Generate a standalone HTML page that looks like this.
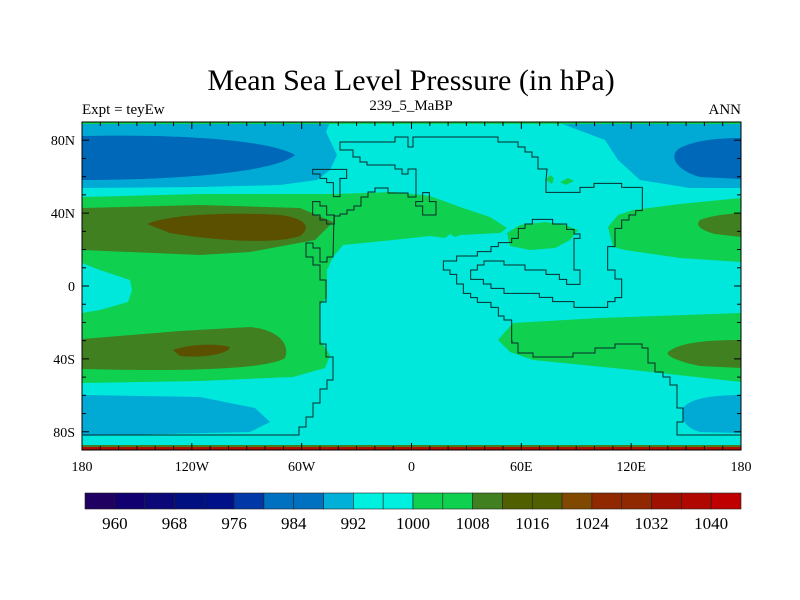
<!DOCTYPE html>
<html><head><meta charset="utf-8"><style>
html,body{margin:0;padding:0;background:#fff;}
svg{display:block;font-family:"Liberation Serif",serif;}
</style></head><body>
<svg id="chart" width="800" height="600" viewBox="0 0 800 600" xmlns="http://www.w3.org/2000/svg">
<rect width="800" height="600" fill="#fff"/>
<text x="411" y="90" font-size="30" text-anchor="middle">Mean Sea Level Pressure (in hPa)</text>
<text x="82" y="114" font-size="15">Expt = teyEw</text>
<text x="411" y="110" font-size="15" text-anchor="middle">239_5_MaBP</text>
<text x="741" y="114" font-size="15" text-anchor="end">ANN</text>
<defs><clipPath id="mapclip"><rect x="82" y="122" width="659" height="328"/></clipPath></defs>
<g clip-path="url(#mapclip)">
<rect x="82" y="122" width="659" height="328" fill="#00E8DC"/>
<path fill="#00AAD4" d="M82,122 L330,122 L326,132 L337,155 L330,170 L317,180 L280,185 L200,187 L82,188Z"/>
<path fill="#0068B8" d="M82,136 C180,134 270,140 295,155 C275,172 180,180 82,180Z"/>
<path fill="#00AAD4" d="M557,122 L741,122 L741,188 L690,188 L640,180 L618,160 L605,140Z"/>
<path fill="#0068B8" d="M741,138 L741,179 L700,177 C675,170 668,155 680,148 C695,140 720,138 741,138Z"/>
<path fill="#10D050" d="M82,197 L200,194 L335,194 L393,192 L430,196 L460,207 L490,217 L507,228 L500,233 L460,235 L455,237 L450,234 L445,238 L430,236 L393,240 L343,245 L333,257 L327,270 L327,297 L320,305 L320,340 L330,355 L325,368 L293,377 L200,381 L82,383 L82,313 L100,310 L128,302 L132,290 L130,280 L100,270 L82,263Z"/>
<path fill="#408020" d="M82,208 L200,205 L300,208 L333,222 L315,240 L250,252 L200,255 L82,250Z"/>
<path fill="#5A5000" d="M147,224 C170,214 230,212 280,215 C305,218 312,227 300,236 C280,243 230,243 170,233Z"/>
<path fill="#408020" d="M82,339 L180,331 L250,327 C280,330 290,345 285,358 C270,368 200,372 82,369Z"/>
<path fill="#5A5000" d="M173,350 C190,344 215,343 230,347 C228,355 200,358 180,356Z"/>
<path fill="#00AAD4" d="M82,395 L200,397 L255,408 L270,422 L250,432 L82,436Z"/>
<path fill="#10D050" d="M608,227 L618,215 L633,210 L680,204 L741,198 L741,262 L680,258 L625,250 L613,247Z"/>
<path fill="#408020" d="M741,213 L741,237 L715,234 C700,230 695,225 700,220 C710,216 725,214 741,213Z"/>
<path fill="#10D050" d="M507,233 L520,225 L545,222 L565,225 L578,230 L570,240 L555,248 L530,250 L510,246Z"/>
<path fill="#10D050" d="M546,180 L550,175 L554,178 L552,184Z"/>
<path fill="#10D050" d="M560,182 L568,178 L574,181 L566,185Z"/>
<path fill="#10D050" d="M498,340 L513,323 L600,318 L741,313 L741,382 L633,370 L533,360 L510,352Z"/>
<path fill="#408020" d="M741,340 L741,368 L700,366 C680,362 665,356 668,352 C680,342 710,340 741,340Z"/>
<path fill="#00AAD4" d="M741,395 L741,433 L700,432 C685,428 680,418 683,408 C690,398 715,395 741,395Z"/>
<rect x="82" y="122" width="659" height="2" fill="#10D050"/>
<rect x="82" y="445" width="659" height="2" fill="#408020"/>
<rect x="82" y="447" width="659" height="3" fill="#B01000"/>
<g fill="none" stroke="#0a2a2a" stroke-width="1">
<polyline points="546,180 547,169 538,169 538,157 532,157 532,152 525,152 525,147 518,147 518,142 498,142 498,137 413,137 413,147 408,147 408,137 395,137 395,142 340,142 340,150 353,150 353,157 360,157 360,162 367,162 367,165 395,165 395,169 402,169 402,174 408,174 408,169 416,169 416,197 408,197 408,193 388,193 388,188 375,188 375,192 368,192 368,197 361,197 361,206 354,206 354,210 347,210 347,214 340,214 340,216 334,216 333,257 327,257 327,262 320,262 320,248 313,248 313,243 306,243 306,257 313,257 313,265 320,265 320,280 326,280 326,302 320,302 320,344 326,344 326,357 333,357 333,380 327,380 327,389 320,389 320,403 313,403 313,417 306,417 306,427 299,427 299,435 83,435"/>
<g transform="translate(430,180) scale(0.33333)">
<polyline vector-effect="non-scaling-stroke" points="348,0 348,37 450,37 450,22 492,22 492,10 575,10 575,22 637,22 637,92 617,92 617,105 597,105 597,120 575,120 575,145 555,145 555,200 533,200 533,270 555,270 555,297 575,297 575,353 555,353 555,365 533,365 533,382 432,382 432,365 368,365 368,352 328,352 328,340 222,340 222,325 183,325 183,312 160,312 160,298 122,298 122,270 142,270 142,255 162,255 162,243 222,243 222,255 285,255 285,270 348,270 348,283 388,283 388,298 410,298 410,313 450,313 450,270 432,270 432,175 450,175 450,162 432,162 432,148 410,148 410,132 368,132 368,118 307,118 307,132 285,132 285,145 265,145 265,175 245,175 245,188 205,188 205,200 183,200 183,215 142,215 142,228 80,228 80,243 40,243 40,270 60,270 60,283 80,283 80,312 100,312 100,340 122,340 122,353 142,353 142,367 183,367 183,382 205,382 205,408 222,408 222,420 245,420 245,490"/>
</g>
<polyline points="512,340 512,343 518,343 518,353 533,353 533,357 573,357 573,353 595,353 595,348 615,348 615,344 642,344 642,348 648,348 648,363 655,363 655,372 663,372 663,377 670,377 670,385 677,385 677,408 683,408 683,422 677,422 677,435 741,435"/>
<g transform="translate(290,160) scale(0.33333)">
<polygon vector-effect="non-scaling-stroke" points="68,28 170,28 170,55 150,55 150,110 130,110 130,68 110,68 110,55 90,55 90,42 68,42"/>
<polygon vector-effect="non-scaling-stroke" points="68,125 90,125 90,138 110,138 110,165 133,165 133,192 110,192 110,180 90,180 90,165 68,165"/>
<polygon vector-effect="non-scaling-stroke" points="398,98 418,98 418,125 438,125 438,165 398,165 398,138 377,138 377,125 398,125"/>
</g>
</g>
</g>
<rect x="82" y="122" width="659" height="328" fill="none" stroke="#000" stroke-width="1"/>
<g id="axes"></g>
<g id="colorbar"></g>
</svg>
<script>
const lonTicks = [-180, -120, -60, 0, 60, 120, 180];
const lonLabels = ["180", "120W", "60W", "0", "60E", "120E", "180"];
const latTicks = [80, 40, 0, -40, -80];
const latLabels = ["80N", "40N", "0", "40S", "80S"];
const cbLevels = [960, 968, 976, 984, 992, 1000, 1008, 1016, 1024, 1032, 1040];
const cbColors = ["#200060","#100070","#0c0878","#001080","#001088","#0038a8","#0070c0","#0070c0","#00b0d8","#00f0e0","#00f0e0","#10d050","#10d050","#408020","#506000","#506000","#804800","#902800","#902800","#a01000","#b00800","#c00000"];
const NS = "http://www.w3.org/2000/svg";
function xLon(l){ return 411.5 + l * 659 / 360; }
function yLat(l){ return 286 - l * 328 / 180; }
function mk(tag, attrs, parent){ const e = document.createElementNS(NS, tag); for (const k in attrs) e.setAttribute(k, attrs[k]); parent.appendChild(e); return e; }
const axes = document.getElementById("axes");
for (let l = -180; l <= 180; l += 10) {
  const major = l % 60 === 0; const len = major ? 7 : 4;
  const t1 = mk("line", {x1: xLon(l), x2: xLon(l), y1: 450, y2: 450 - len, stroke: "#000"}, axes);
  
  
  const t2 = mk("line", {x1: xLon(l), x2: xLon(l), y1: 122, y2: 122 + len, stroke: "#000"}, axes);
  
  
}
for (let l = -90; l <= 90; l += 10) {
  const major = l % 40 === 0 && Math.abs(l) <= 80; const len = major ? 7 : 4;
  const t1 = mk("line", {x1: 82, x2: 82 + len, y1: yLat(l), y2: yLat(l), stroke: "#000"}, axes);
  
  
  const t2 = mk("line", {x1: 741, x2: 741 - len, y1: yLat(l), y2: yLat(l), stroke: "#000"}, axes);
  
  
}
lonTicks.forEach((l, i) => {
  const t = mk("text", {x: xLon(l), y: 471, "font-size": 14, "text-anchor": "middle"}, axes);
  t.textContent = lonLabels[i];
  
  
});
latTicks.forEach((l, i) => {
  const t = mk("text", {x: 75, y: yLat(l) + 5, "font-size": 14, "text-anchor": "end"}, axes);
  t.textContent = latLabels[i];
  
  
});
const cb = document.getElementById("colorbar");
const cbX0 = 85, cbX1 = 741, cbY = 493, cbH = 16;
const bw = (cbX1 - cbX0) / cbColors.length;
cbColors.forEach((c, i) => {
  const r = mk("rect", {x: cbX0 + i * bw, y: cbY, width: bw, height: cbH, fill: c, stroke: "#222", "stroke-width": 0.6}, cb);
  
  
});
cbLevels.forEach((v, i) => {
  const t = mk("text", {x: cbX0 + (2 * i + 1) * bw, y: 529, "font-size": 17, "text-anchor": "middle"}, cb);
  t.textContent = v;
  
  
});
</script>
</body></html>
